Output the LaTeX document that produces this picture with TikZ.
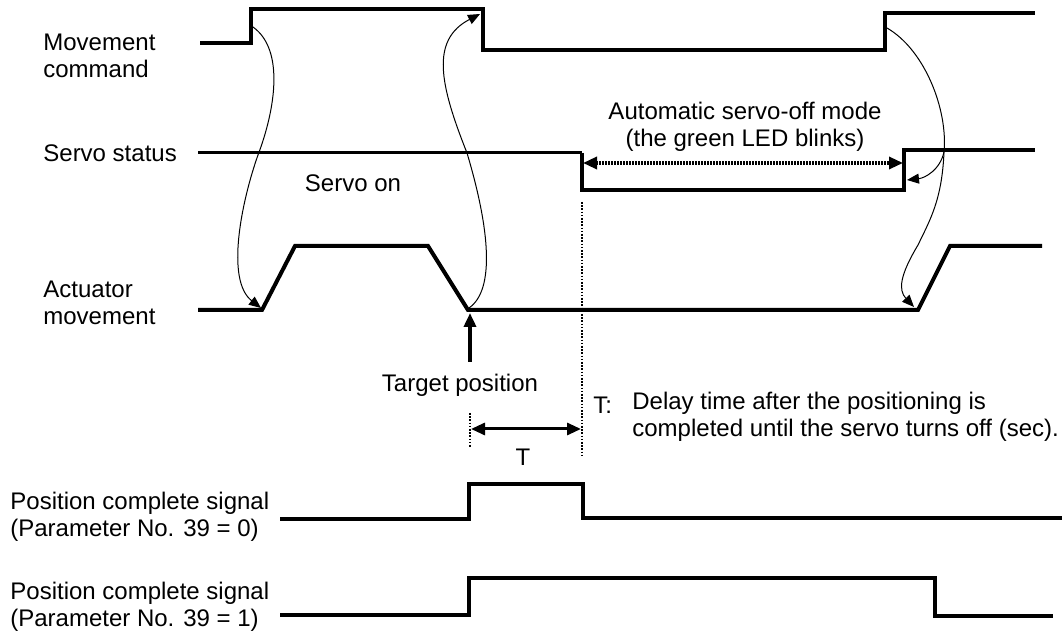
\documentclass[tikz,border=0pt]{standalone}
\usepackage{fontspec}
\setmainfont{Liberation Sans}
\usetikzlibrary{arrows.meta, positioning}

\begin{document}
\begin{tikzpicture}[x=0.5pt, y=-0.5pt,
  sig/.style={line width=2pt, line join=miter},
  thinsig/.style={line width=1.5pt},
  lbl/.style={anchor=west, align=left, inner sep=0pt,
              font=\fontsize{12}{13.5}\selectfont},
  txt/.style={align=center, inner sep=0pt,
              font=\fontsize{12}{13.5}\selectfont},
  curv/.style={-{Triangle[length=6pt, width=5pt]}, line width=0.5pt},
  dotline/.style={line width=1.2pt, dash pattern=on 0.8pt off 0.8pt},
  dotarrow/.style={{Triangle[length=7pt, width=6pt]}-{Triangle[length=7pt, width=6pt]},
                   line width=1.6pt, dash pattern=on 0.75pt off 0.75pt},
  dimarrow/.style={{Triangle[length=7pt, width=6pt]}-{Triangle[length=7pt, width=6pt]},
                   line width=1.5pt},
  tgtarrow/.style={-{Triangle[length=7pt, width=6pt]}, line width=2pt}
]
\useasboundingbox (0,0) rectangle (1062,635);

%% --- Signal names (left) ---
\node[lbl] (lmove) at (43,56) {Movement\\command};
\node[lbl] (lservo) at (43,153) {Servo status};
\node[lbl] (lact) at (43,303) {Actuator\\movement};
\node[lbl] (lpc0) at (10,517) {Position complete signal\\(Parameter No. 39 = 0)};
\node[lbl] (lpc1) at (10,607) {Position complete signal\\(Parameter No. 39 = 1)};

%% --- Movement command ---
\draw[sig] (200,43) -- (251,43) -- (251,9) -- (483,9) -- (483,50)
    -- (885,50) -- (885,13) -- (1035,13);
\coordinate (mcA) at (253,27);
\coordinate (mcB) at (480,14);
\coordinate (mcC) at (887,28);

%% --- Servo status ---
\draw[thinsig] (198,153) -- (582,153);
\draw[sig] (582,153) -- (582,190) -- (904,190) -- (904,150) -- (1035,150);
\coordinate (offL) at (583,163);
\coordinate (offR) at (903,163);
\coordinate (svon) at (907,180);

%% --- Actuator movement ---
\draw[sig] (198,310) -- (262,310) -- (295,246) -- (428,246) -- (468,310)
    -- (918,310) -- (950,246) -- (1042,246);
\coordinate (actA) at (261,308);
\coordinate (actB) at (469,308);
\coordinate (actC) at (914,307);
\coordinate (tgt) at (470,313);

%% --- Position complete signals ---
\draw[sig] (280,519) -- (469,519) -- (469,484) -- (583,484) -- (583,518) -- (1062,518);
\draw[sig] (280,615) -- (469,615) -- (469,578) -- (935,578) -- (935,616) -- (1053,616);

%% --- Cause -> effect curves ---
\draw[curv] (mcA) .. controls (285,50) and (275,110) .. (258,155)
    .. controls (242,200) and (225,280) .. (actA);
\draw[curv] (actB) .. controls (495,290) and (490,230) .. (467,153)
    .. controls (440,85) and (430,40) .. (mcB);
\coordinate (split) at (944,152);
\draw[curv] (mcC) .. controls (925,50) and (948,110) .. (split)
    .. controls (942,200) and (930,220) .. (918,245)
    .. controls (900,275) and (898,290) .. (actC);
\draw[curv] (split) .. controls (940,170) and (925,178) .. (svon);

%% --- Servo-off interval ---
\draw[dotarrow] (offL) -- (offR);
\node[txt] (offtxt) at (745,127) {Automatic servo-off mode\\(the green LED blinks)};
\node[txt] (ontxt) at (353,183) {Servo on};

%% --- Target position and delay T ---
\coordinate (tgttail) at (470,362);
\draw[tgtarrow] (tgttail) -- (tgt);
\node[txt, below=6pt of tgttail, xshift=-5pt] (tgttxt) {Target position};
\coordinate (vL1) at (470,413);
\coordinate (vL2) at (470,447);
\coordinate (vR1) at (582,202);
\coordinate (vR2) at (582,456);
\draw[dotline] (vL1) -- (vL2);
\draw[dotline] (vR1) -- (vR2);
\coordinate (dimL) at (471,429);
\coordinate (dimR) at (581,429);
\draw[dimarrow] (dimL) -- (dimR);
\node[txt] (tlbl) at (523,457) {T};
\node[lbl] (tkey) at (593,405) {T:};
\node[lbl] (tdesc) at (632,417) {Delay time after the positioning is\\completed until the servo turns off (sec).};

\end{tikzpicture}
\end{document}
